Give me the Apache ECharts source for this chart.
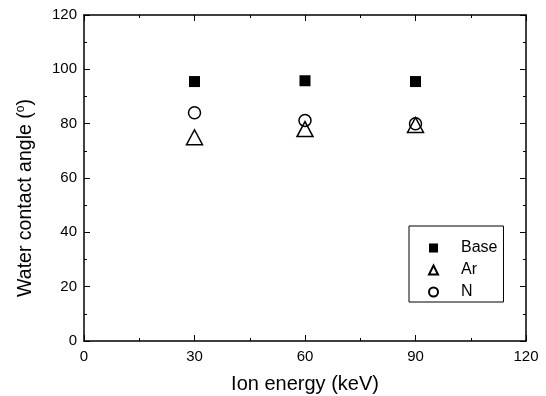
<!DOCTYPE html>
<html>
<head>
<meta charset="utf-8">
<script src="https://cdn.jsdelivr.net/npm/echarts@6/dist/echarts.min.js"></script>
<style>
  html, body { margin: 0; padding: 0; background: #fff; }
  #chart { width: 546px; height: 396px; }
</style>
</head>
<body>
<div id="chart"></div>
<script>
const energy = [30, 60, 90];
const baseAngle = [95.5, 95.8, 95.5];
const arAngle = [75.0, 78.0, 79.5];
const nAngle = [84.0, 81.2, 80.0];
const xTicks = [0, 30, 60, 90, 120];
const yTicks = [0, 20, 40, 60, 80, 100, 120];

const myChart = echarts.init(document.getElementById("chart"));
const fontFamily = "Liberation Sans, Arial, sans-serif";
const lineColor = "#000";

function pairs(ys) {
  return energy.map((x, i) => [x, ys[i]]);
}

// shared axis look, ticks point inward
function frameAxis(extra) {
  return Object.assign({
    type: "value",
    axisLine: { show: true, onZero: false, lineStyle: { color: lineColor, width: 1.5 } },
    axisTick: { show: true, inside: true, length: 6, lineStyle: { color: lineColor, width: 1 } },
    minorTick: { show: true, splitNumber: 2, length: 3, lineStyle: { color: lineColor, width: 1 } },
    splitLine: { show: false },
  }, extra);
}

const option = {
  animation: false,
  textStyle: { fontFamily: fontFamily },
  grid: { left: 84, right: 20, top: 15, bottom: 55, outerBoundsMode: "none" },
  legend: {
    orient: "vertical",
    left: 409,
    top: 226,
    padding: [13, 6, 1, 19],
    borderColor: "#000",
    borderWidth: 1,
    itemWidth: 9,
    itemHeight: 9,
    itemGap: 4,
    textStyle: { fontSize: 16, color: "#000", lineHeight: 18, padding: [0, 0, 0, 18] },
    data: ["Base", "Ar", "N"],
  },
  xAxis: [
    frameAxis({
      min: xTicks[0], max: xTicks[xTicks.length - 1], interval: 30,
      name: "Ion energy (keV)",
      nameLocation: "middle",
      nameGap: 33,
      nameTextStyle: { fontSize: 20, color: "#000" },
      axisLabel: { fontSize: 15, color: "#000", margin: 8 },
    }),
    frameAxis({
      position: "top",
      min: xTicks[0], max: xTicks[xTicks.length - 1], interval: 30,
      axisLabel: { show: false },
    }),
  ],
  yAxis: [
    frameAxis({
      min: yTicks[0], max: yTicks[yTicks.length - 1], interval: 20,
      name: "{t|Water contact angle (}{s|o}{t|)}",
      nameLocation: "middle",
      nameGap: 48,
      nameTextStyle: {
        padding: [0, 40, 0, 0],
        rich: {
          t: { fontSize: 19.5, color: "#000", fontFamily: fontFamily },
          s: { fontSize: 12, color: "#000", fontFamily: fontFamily, verticalAlign: "top", padding: [0, 0, 9, 0] },
        },
      },
      axisLabel: { fontSize: 15, color: "#000", margin: 7 },
    }),
    frameAxis({
      position: "right",
      min: yTicks[0], max: yTicks[yTicks.length - 1], interval: 20,
      axisLabel: { show: false },
    }),
  ],
  series: [
    {
      name: "Base",
      type: "scatter",
      symbol: "rect",
      symbolSize: 11,
      itemStyle: { color: "#000", opacity: 1 },
      data: pairs(baseAngle),
    },
    {
      name: "Ar",
      type: "scatter",
      symbol: "triangle",
      symbolSize: [16, 15],
      itemStyle: { color: "#fff", borderColor: "#000", borderWidth: 1.5, opacity: 1 },
      data: pairs(arAngle),
    },
    {
      name: "N",
      type: "scatter",
      symbol: "circle",
      symbolSize: 12,
      itemStyle: { color: "rgba(255,255,255,0)", borderColor: "#000", borderWidth: 1.5, opacity: 1 },
      data: pairs(nAngle),
    },
  ],
};

myChart.setOption(option);
</script>
</body>
</html>
